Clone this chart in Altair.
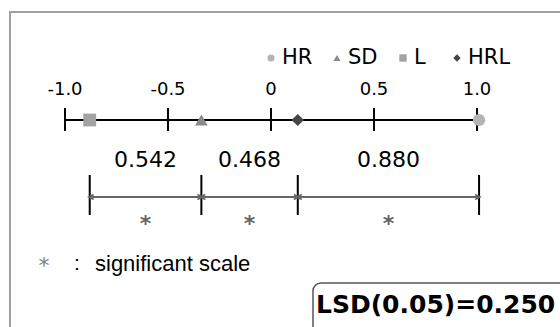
import altair as alt
import pandas as pd

# ---- data ----
categories = ["HR", "SD", "L", "HRL"]
scores = [1.010, -0.338, -0.880, 0.130]
tick_values = [-1.0, -0.5, 0.0, 0.5, 1.0]
tick_labels = ["-1.0", "-0.5", "0", "0.5", "1.0"]
interval_labels = ["0.542", "0.468", "0.880"]
lsd_text = "LSD(0.05)=0.250"
note_star = "*"
note_colon = ":"
note_text = "significant scale"

colors = {"HR": "#b4b4b4", "SD": "#8a8a8a", "L": "#a3a3a3", "HRL": "#454545"}
shapes = {"HR": "circle", "SD": "triangle-up", "L": "square", "HRL": "diamond"}
big_sizes = {"HR": 150, "SD": 160, "L": 165, "HRL": 150}
small_sizes = {"HR": 50, "SD": 50, "L": 55, "HRL": 55}

W, H = 560, 327
# x scale: -1 at px 65, +1 at px 477
px_per_unit = (477 - 65) / 2.0
x_lo = -1 - 65 / px_per_unit
x_hi = x_lo + W / px_per_unit
xs = alt.Scale(domain=[x_lo, x_hi], nice=False, zero=False)

pts = pd.DataFrame({"cat": categories, "v": scores})
order = pts.sort_values("v").reset_index(drop=True)
iv = pd.DataFrame({
    "a": order["v"].iloc[:-1].values,
    "b": order["v"].iloc[1:].values,
    "label": interval_labels,
})
iv["mid"] = (iv["a"] + iv["b"]) / 2
ticks = pd.DataFrame({"t": tick_values, "lab": tick_labels})

layers = []

# frame
layers.append(alt.Chart(pd.DataFrame({"k": [0]})).mark_rect(
    fill="white", stroke="#a0a0a0", strokeWidth=2
).encode(x=alt.value(10), x2=alt.value(W + 20), y=alt.value(12), y2=alt.value(H + 20)))

# axis line
axis_df = pd.DataFrame({"a": [tick_values[0]], "b": [order["v"].iloc[-1]]})
layers.append(alt.Chart(axis_df).mark_rule(color="black", strokeWidth=2).encode(
    x=alt.X("a:Q", scale=xs, axis=None), x2="b:Q", y=alt.value(120)))

# tick marks
layers.append(alt.Chart(ticks).mark_rule(color="black", strokeWidth=2).encode(
    x=alt.X("t:Q", scale=xs, axis=None), y=alt.value(108), y2=alt.value(131)))
# tick labels
layers.append(alt.Chart(ticks).mark_text(
    font="DejaVu Sans", fontSize=18, color="black", baseline="middle", align="center"
).encode(x=alt.X("t:Q", scale=xs, axis=None), y=alt.value(90), text="lab:N"))

# points on axis
for c in categories:
    d = pts[pts["cat"] == c]
    layers.append(alt.Chart(d).mark_point(
        shape=shapes[c], filled=True, color=colors[c], size=big_sizes[c], opacity=1
    ).encode(x=alt.X("v:Q", scale=xs, axis=None), y=alt.value(120)))

# legend
legend_sym_x = [271, 337, 403, 457]
for c, lx in zip(categories, legend_sym_x):
    layers.append(alt.Chart(pd.DataFrame({"cat": [c]})).mark_point(
        shape=shapes[c], filled=True, color=colors[c], size=small_sizes[c], opacity=1
    ).encode(x=alt.value(lx), y=alt.value(58)))
    layers.append(alt.Chart(pd.DataFrame({"cat": [c]})).mark_text(
        font="DejaVu Sans", fontSize=21, color="black", align="left", baseline="middle"
    ).encode(x=alt.value(lx + 11), y=alt.value(58), text="cat:N"))

# interval brackets (vertical lines at the points)
layers.append(alt.Chart(order).mark_rule(color="black", strokeWidth=2).encode(
    x=alt.X("v:Q", scale=xs, axis=None), y=alt.value(175), y2=alt.value(215)))
# arrows
layers.append(alt.Chart(iv).mark_rule(color="#666666", strokeWidth=2).encode(
    x=alt.X("a:Q", scale=xs, axis=None), x2="b:Q", y=alt.value(197)))
layers.append(alt.Chart(iv).mark_point(
    shape="M0,-1L-2,0L0,1", filled=False, color="#666666", size=25, strokeWidth=1.5, xOffset=4, opacity=1
).encode(x=alt.X("a:Q", scale=xs, axis=None), y=alt.value(197)))
layers.append(alt.Chart(iv).mark_point(
    shape="M0,-1L2,0L0,1", filled=False, color="#666666", size=25, strokeWidth=1.5, xOffset=-4, opacity=1
).encode(x=alt.X("b:Q", scale=xs, axis=None), y=alt.value(197)))
# interval values
layers.append(alt.Chart(iv).mark_text(
    font="DejaVu Sans", fontSize=22, color="black", baseline="middle", align="center"
).encode(x=alt.X("mid:Q", scale=xs, axis=None), y=alt.value(160), text="label:N"))
# stars
layers.append(alt.Chart(iv.assign(s=note_star)).mark_text(
    font="DejaVu Sans", fontSize=22, fontWeight="bold", color="#666666", baseline="middle", align="center"
).encode(x=alt.X("mid:Q", scale=xs, axis=None), y=alt.value(224), text="s:N"))

# note
layers.append(alt.Chart(pd.DataFrame({"s": [note_star]})).mark_text(
    font="DejaVu Sans", fontSize=22, color="#808080", baseline="middle", align="center"
).encode(x=alt.value(44), y=alt.value(266), text="s:N"))
layers.append(alt.Chart(pd.DataFrame({"s": [note_colon]})).mark_text(
    font="Liberation Sans", fontSize=21, color="black", baseline="middle", align="center"
).encode(x=alt.value(77), y=alt.value(264), text="s:N"))
layers.append(alt.Chart(pd.DataFrame({"s": [note_text]})).mark_text(
    font="Liberation Sans", fontSize=22, color="black", baseline="middle", align="left"
).encode(x=alt.value(95), y=alt.value(264), text="s:N"))

# LSD box
layers.append(alt.Chart(pd.DataFrame({"k": [0]})).mark_rect(
    fill="white", stroke="#555555", strokeWidth=1.5, cornerRadius=8
).encode(x=alt.value(313), x2=alt.value(W + 20), y=alt.value(283), y2=alt.value(H + 20)))
layers.append(alt.Chart(pd.DataFrame({"s": [lsd_text]})).mark_text(
    font="DejaVu Sans", fontSize=25, fontWeight="bold", color="black", baseline="middle", align="left"
).encode(x=alt.value(316), y=alt.value(305), text="s:N"))

chart = alt.layer(*layers).properties(
    width=W, height=H, padding=0, autosize=alt.AutoSizeParams(type="none")
).configure_view(stroke=None)

chart.save("out.html", embed_options={"renderer": "svg", "actions": False})
